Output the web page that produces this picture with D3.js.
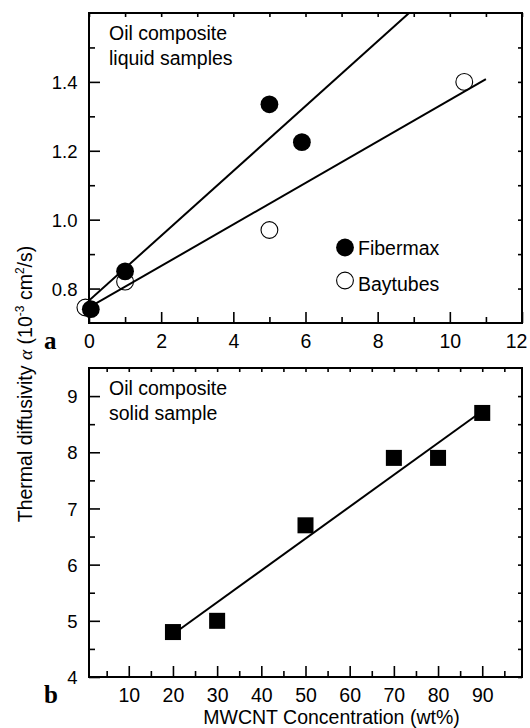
<!DOCTYPE html>
<html>
<head>
<meta charset="utf-8">
<script src="https://cdn.jsdelivr.net/npm/d3@7/dist/d3.min.js"></script>
<style>
  body { margin: 0; background: #fff; }
  svg { display: block; }
</style>
</head>
<body>
<div id="chart"></div>
<script>
// panel a: liquid samples (x = wt%, y = 10^-3 cm^2/s)
const fibermaxX = [0.05, 1, 5, 5.9]
const fibermaxY = [0.74, 0.85, 1.335, 1.225]
const baytubesX = [-0.1, 1, 5, 10.4]
const baytubesY = [0.745, 0.82, 0.97, 1.40]
const fitFibermax = [[0, 0.765], [8.87, 1.6]]
const fitBaytubes = [[0, 0.745], [11, 1.408]]

const aMajorX = [0, 2, 4, 6, 8, 10, 12]
const aMinorX = [1, 3, 5, 7, 9, 11]
const aMajorY = [0.8, 1.0, 1.2, 1.4]
const aMinorY = [0.9, 1.1, 1.3, 1.5]

// panel b: solid sample
const solidX = [20, 30, 50, 70, 80, 90]
const solidY = [4.8, 5.0, 6.7, 7.9, 7.9, 8.7]
const fitSolid = [[20, 4.76], [88.7, 8.66]]

const bMajorX = [10, 20, 30, 40, 50, 60, 70, 80, 90]
const bMinorX = [5, 15, 25, 35, 45, 55, 65, 75, 85, 95]
const bMajorY = [4, 5, 6, 7, 8, 9]
const bMinorY = [4.5, 5.5, 6.5, 7.5, 8.5]

const W = 530
const H = 728
const sans = 'Liberation Sans, Arial, Helvetica, sans-serif'
const serif = 'Liberation Serif, Times New Roman, serif'

const svg = d3.select('#chart')
  .append('svg')
  .attr('width', W)
  .attr('height', H)
  .style('font-family', sans)

const left = 89
const right = 522

// ticks all point inward; fmt null -> no labels
function tickAxis(g, axis, pos, ticks, size, fmt) {
  const a = g.append('g')
    .attr('transform', pos)
    .call(axis.tickValues(ticks).tickSize(size).tickSizeOuter(0).tickFormat(fmt || (() => '')))
  a.select('.domain').remove()
  a.selectAll('line').attr('stroke', '#000').attr('stroke-width', 1.6)
  if (!fmt) a.selectAll('text').remove()
  return a
}

function drawPanel(cfg) {
  const x = d3.scaleLinear().domain(cfg.xDomain).range([left, right])
  const y = d3.scaleLinear().domain(cfg.yDomain).range([cfg.bottom, cfg.top])
  const g = svg.append('g')

  const xb = tickAxis(g, d3.axisBottom(x), `translate(0,${cfg.bottom})`, cfg.majorX, -11, d3.format('d'))
  xb.selectAll('text')
    .attr('y', 25).attr('dy', 0)
    .style('font-size', '19.5px').style('fill', '#000')
  tickAxis(g, d3.axisBottom(x), `translate(0,${cfg.bottom})`, cfg.minorX, -6, null)
  tickAxis(g, d3.axisTop(x), `translate(0,${cfg.top})`, cfg.majorX.concat(cfg.minorX), -4, null)

  const yl = tickAxis(g, d3.axisLeft(y), `translate(${left},0)`, cfg.majorY, -11, cfg.yFmt)
  yl.selectAll('text')
    .attr('x', -11.5).attr('dy', '0.36em')
    .style('font-size', '18.5px').style('fill', '#000')
  tickAxis(g, d3.axisLeft(y), `translate(${left},0)`, cfg.minorY, -6, null)
  tickAxis(g, d3.axisRight(y), `translate(${right},0)`, cfg.majorY.concat(cfg.minorY), -4, null)

  g.append('rect')
    .attr('x', left)
    .attr('y', cfg.top)
    .attr('width', right - left)
    .attr('height', cfg.bottom - cfg.top)
    .attr('fill', 'none')
    .attr('stroke', '#000')
    .attr('stroke-width', 2)

  const clipId = 'clip-' + cfg.name
  svg.append('clipPath').attr('id', clipId)
    .append('rect')
    .attr('x', left).attr('y', cfg.top)
    .attr('width', right - left).attr('height', cfg.bottom - cfg.top)

  const line = d3.line().x(d => x(d[0])).y(d => y(d[1]))
  cfg.fits.forEach(f => {
    g.append('path')
      .attr('d', line(f))
      .attr('clip-path', `url(#${clipId})`)
      .attr('fill', 'none')
      .attr('stroke', '#000')
      .attr('stroke-width', 2)
  })

  // note in the top-left corner
  const note = g.append('text')
    .attr('y', cfg.top + 27)
    .style('font-size', '19.5px')
  cfg.note.forEach((t, i) => {
    note.append('tspan').attr('x', left + 20).attr('dy', i ? 24.5 : 0).text(t)
  })

  // panel letter
  g.append('text')
    .attr('x', 44)
    .attr('y', cfg.bottom + 26)
    .style('font-family', serif)
    .style('font-weight', 'bold')
    .style('font-size', '25px')
    .text(cfg.name)

  cfg.x = x
  cfg.y = y
  cfg.g = g
  cfg.xAxisg = xb
}

// ---------- panel a ----------
const pa = {
  name: 'a',
  top: 13,
  bottom: 323,
  xDomain: [0, 12],
  yDomain: [0.7, 1.6],
  majorX: aMajorX,
  minorX: aMinorX,
  majorY: aMajorY,
  minorY: aMinorY,
  yFmt: d3.format('.1f'),
  fits: [fitFibermax, fitBaytubes],
  note: ['Oil composite', 'liquid samples']
}
drawPanel(pa)
// last label sits against the page edge
pa.xAxisg.selectAll('text').filter(d => d === 12).attr('x', -6)

const r = 8.4
const bayData = baytubesX.map((v, i) => ({ x: v, y: baytubesY[i] }))
const fibData = fibermaxX.map((v, i) => ({ x: v, y: fibermaxY[i] }))

pa.g.append('g').selectAll('circle').data(bayData).enter()
  .append('circle')
  .attr('cx', d => pa.x(d.x))
  .attr('cy', d => pa.y(d.y))
  .attr('r', r)
  .attr('fill', 'none')
  .attr('stroke', '#000')
  .attr('stroke-width', 1.1)

pa.g.append('g').selectAll('circle').data(fibData).enter()
  .append('circle')
  .attr('cx', d => pa.x(d.x))
  .attr('cy', d => pa.y(d.y))
  .attr('r', r + 0.5)
  .attr('fill', '#000')

// legend
const lg = pa.g.append('g').attr('transform', `translate(${left + 256},0)`)
lg.append('circle').attr('cx', 0).attr('cy', 247.5).attr('r', r + 0.5).attr('fill', '#000')
lg.append('circle').attr('cx', 0).attr('cy', 280.5).attr('r', r)
  .attr('fill', 'none').attr('stroke', '#000').attr('stroke-width', 1.1)
lg.append('text').attr('x', 13).attr('y', 254.5).style('font-size', '19.5px').text('Fibermax')
lg.append('text').attr('x', 13).attr('y', 290.5).style('font-size', '19.5px').text('Baytubes')

// ---------- panel b ----------
const pb = {
  name: 'b',
  top: 368,
  bottom: 677,
  xDomain: [1, 99],
  yDomain: [4, 9.5],
  majorX: bMajorX,
  minorX: bMinorX,
  majorY: bMajorY,
  minorY: bMinorY,
  yFmt: d3.format('d'),
  fits: [fitSolid],
  note: ['Oil composite', 'solid sample']
}
drawPanel(pb)

const side = 16
pb.g.append('g').selectAll('rect').data(solidX.map((v, i) => ({ x: v, y: solidY[i] }))).enter()
  .append('rect')
  .attr('x', d => pb.x(d.x) - side / 2)
  .attr('y', d => pb.y(d.y) - side / 2)
  .attr('width', side)
  .attr('height', side)
  .attr('fill', '#000')

// ---------- axis titles ----------
svg.append('text')
  .attr('x', 331.5)
  .attr('y', 723.5)
  .attr('text-anchor', 'middle')
  .style('font-size', '19.5px')
  .text('MWCNT Concentration (wt%)')

const yt = svg.append('text')
  .attr('transform', 'translate(32,384) rotate(-90)')
  .attr('text-anchor', 'middle')
  .style('font-size', '19.5px')
yt.append('tspan').text('Thermal diffusivity ')
yt.append('tspan').style('font-family', serif).style('font-style', 'italic').text('α')
yt.append('tspan').text(' (10')
yt.append('tspan').attr('dy', -8).style('font-size', '12px').text('-3')
yt.append('tspan').attr('dy', 8).text(' cm')
yt.append('tspan').attr('dy', -8).style('font-size', '12px').text('2')
yt.append('tspan').attr('dy', 8).text('/s)')
</script>
</body>
</html>
